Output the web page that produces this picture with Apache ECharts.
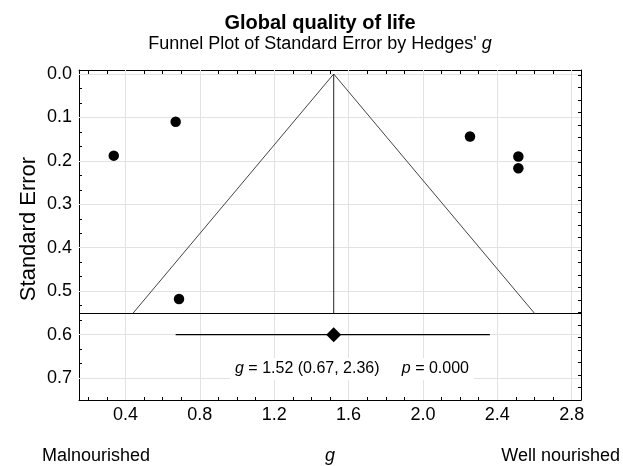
<!DOCTYPE html>
<html><head><meta charset="utf-8">
<script src="https://cdn.jsdelivr.net/npm/echarts@6/dist/echarts.min.js"></script>
<style>html,body{margin:0;padding:0;background:#fff}#c{width:623px;height:466px}</style>
</head><body><div id="c"></div>
<script>
// ---- data ----
const studyG  = [0.337, 0.670, 0.688, 2.253, 2.513, 2.513];
const studySE = [0.188, 0.110, 0.518, 0.144, 0.190, 0.217];
const pooledG = 1.52;
const pooledCI = [0.67, 2.36];
const pooledP = '0.000';
const summaryRowSE = 0.60;
const funnelBaseSE = 0.551;
const funnelBaseG = [0.44, 2.60];
const xRange = [0.15, 2.85];
const yRange = [-0.0092, 0.7505];
const xMajorTicks = [0.4, 0.8, 1.2, 1.6, 2.0, 2.4, 2.8];
const xMinorTicks = [0.2,0.3,0.5,0.6,0.7,0.9,1.0,1.1,1.3,1.4,1.5,1.7,1.8,1.9,2.1,2.2,2.3,2.5,2.6,2.7];
const xTopTicks = [0.2,0.3,0.4,0.5,0.6,0.7,0.8,0.9,1.0,1.1,1.2,1.3,1.4,1.5,1.6,1.7,1.8,1.9,2.0,2.1,2.2,2.3,2.4,2.5,2.6,2.7,2.8];
const yMajorTicks = [0.0, 0.1, 0.2, 0.3, 0.4, 0.5, 0.6, 0.7];
const yMinorTicks = [];
for (let i = 0; i < 22; i++) { if (i % 3) yMinorTicks.push(i / 30); }
const titleText = 'Global quality of life';
const subtitleText = "Funnel Plot of Standard Error by Hedges' {i|g}";
const yName = 'Standard Error';
const leftLabel = 'Malnourished';
const rightLabel = 'Well nourished';

const FF = '"Liberation Sans", Arial, sans-serif';
const chart = echarts.init(document.getElementById('c'), null, {renderer: 'canvas'});

const gridLineColor = '#e2e2e2';
const gridLines = xMajorTicks.map(v => ({xAxis: v})).concat(yMajorTicks.map(v => ({yAxis: v})));

const option = {
  backgroundColor: '#fff',
  animation: false,
  textStyle: {fontFamily: FF},
  grid: {left: 79, top: 70, right: 42, bottom: 66, containLabel: false},
  xAxis: [
    {type: 'value', position: 'bottom', min: xRange[0], max: xRange[1],
     axisLine: {show: true, onZero: false, lineStyle: {color: '#000', width: 1}},
     axisTick: {show: true, inside: true, length: 6, customValues: xMajorTicks, lineStyle: {color: '#000'}},
     axisLabel: {show: true, customValues: xMajorTicks, formatter: v => v.toFixed(1), fontSize: 18, color: '#000', margin: 6, fontFamily: FF},
     splitLine: {show: false}},
    {type: 'value', position: 'bottom', min: xRange[0], max: xRange[1],
     axisLine: {show: false, onZero: false},
     axisTick: {show: true, inside: true, length: 3, customValues: xMinorTicks, lineStyle: {color: '#000'}},
     axisLabel: {show: false}, splitLine: {show: false}},
    {type: 'value', position: 'top', min: xRange[0], max: xRange[1],
     axisLine: {show: true, onZero: false, lineStyle: {color: '#000', width: 1}},
     axisTick: {show: true, inside: true, length: 4, customValues: xTopTicks, lineStyle: {color: '#000'}},
     axisLabel: {show: false}, splitLine: {show: false}}
  ],
  yAxis: [
    {type: 'value', position: 'left', inverse: true, min: yRange[0], max: yRange[1],
     axisLine: {show: true, onZero: false, lineStyle: {color: '#000', width: 1}},
     axisTick: {show: true, inside: true, length: 6, customValues: yMajorTicks, lineStyle: {color: '#000'}},
     axisLabel: {show: true, customValues: yMajorTicks, formatter: v => v.toFixed(1), fontSize: 18, color: '#000', margin: 7, fontFamily: FF},
     splitLine: {show: false}},
    {type: 'value', position: 'left', inverse: true, min: yRange[0], max: yRange[1],
     axisLine: {show: false, onZero: false},
     axisTick: {show: true, inside: true, length: 3, customValues: yMinorTicks, lineStyle: {color: '#000'}},
     axisLabel: {show: false}, splitLine: {show: false}},
    {type: 'value', position: 'right', min: 0, max: 26.4, interval: 1,
     axisLine: {show: true, onZero: false, lineStyle: {color: '#000', width: 1}},
     axisTick: {show: true, inside: true, length: 3, lineStyle: {color: '#000'}},
     axisLabel: {show: false}, splitLine: {show: false}}
  ],
  series: [
    {type: 'line', name: 'grid', data: [], silent: true, z: 1,
     markLine: {silent: true, z: 1, symbol: 'none', label: {show: false},
       lineStyle: {color: gridLineColor, width: 1, type: 'solid'}, data: gridLines}},
    {type: 'line', name: 'funnel', z: 3, symbol: 'none', silent: true,
     lineStyle: {color: '#444', width: 1},
     data: [[funnelBaseG[0], funnelBaseSE], [pooledG, 0], [funnelBaseG[1], funnelBaseSE]],
     markLine: {silent: true, z: 3, symbol: 'none', label: {show: false},
       lineStyle: {color: '#000', width: 1, type: 'solid'}, data: [{yAxis: funnelBaseSE}]}},
    {type: 'line', name: 'mean', z: 3, symbol: 'none', silent: true,
     lineStyle: {color: '#222', width: 1},
     data: [[pooledG, 0], [pooledG, funnelBaseSE]]},
    {type: 'line', name: 'ci', z: 3, symbol: 'none', silent: true,
     lineStyle: {color: '#000', width: 1.2},
     data: [[pooledCI[0], summaryRowSE], [pooledCI[1], summaryRowSE]]},
    {type: 'scatter', name: 'summary', z: 4, symbol: 'diamond', symbolSize: [15, 15],
     itemStyle: {color: '#000', opacity: 1}, data: [[pooledG, summaryRowSE]]},
    {type: 'scatter', name: 'studies', z: 4, symbol: 'circle', symbolSize: 10.5,
     itemStyle: {color: '#000', opacity: 1}, data: studyG.map((g, i) => [g, studySE[i]])}
  ],
  graphic: [
    {type: 'text', x: 320, y: 23, z: 10,
     style: {text: titleText, fill: '#000', font: 'bold 20px ' + FF, align: 'center', verticalAlign: 'middle'}},
    {type: 'text', x: 320, y: 44, z: 10,
     style: {text: subtitleText, fill: '#000', font: '18px ' + FF, align: 'center', verticalAlign: 'middle',
       rich: {i: {fontStyle: 'italic', fontSize: 18, fontFamily: FF}}}},
    {type: 'text', x: 29, y: 229, rotation: Math.PI / 2, z: 10,
     style: {text: yName, fill: '#000', font: '22px ' + FF, align: 'center', verticalAlign: 'middle'}},
    {type: 'text', x: 42, y: 456, z: 10,
     style: {text: leftLabel, fill: '#000', font: '18px ' + FF, align: 'left', verticalAlign: 'middle'}},
    {type: 'text', x: 330, y: 456, z: 10,
     style: {text: 'g', fill: '#000', font: 'italic 18px ' + FF, align: 'center', verticalAlign: 'middle'}},
    {type: 'text', x: 620, y: 456, z: 10,
     style: {text: rightLabel, fill: '#000', font: '18px ' + FF, align: 'right', verticalAlign: 'middle'}},
    {type: 'text', x: 352, y: 369, z: 10,
     style: {text: '{i|g} = ' + pooledG.toFixed(2) + ' (' + pooledCI[0].toFixed(2) + ', ' + pooledCI[1].toFixed(2) + ')     {i|p} = ' + pooledP,
       fill: '#000', font: '16px ' + FF, align: 'center', verticalAlign: 'middle',
       backgroundColor: '#fff', padding: [3, 5],
       rich: {i: {fontStyle: 'italic', fontSize: 16, fontFamily: FF}}}}
  ]
};
chart.setOption(option);
</script></body></html>
